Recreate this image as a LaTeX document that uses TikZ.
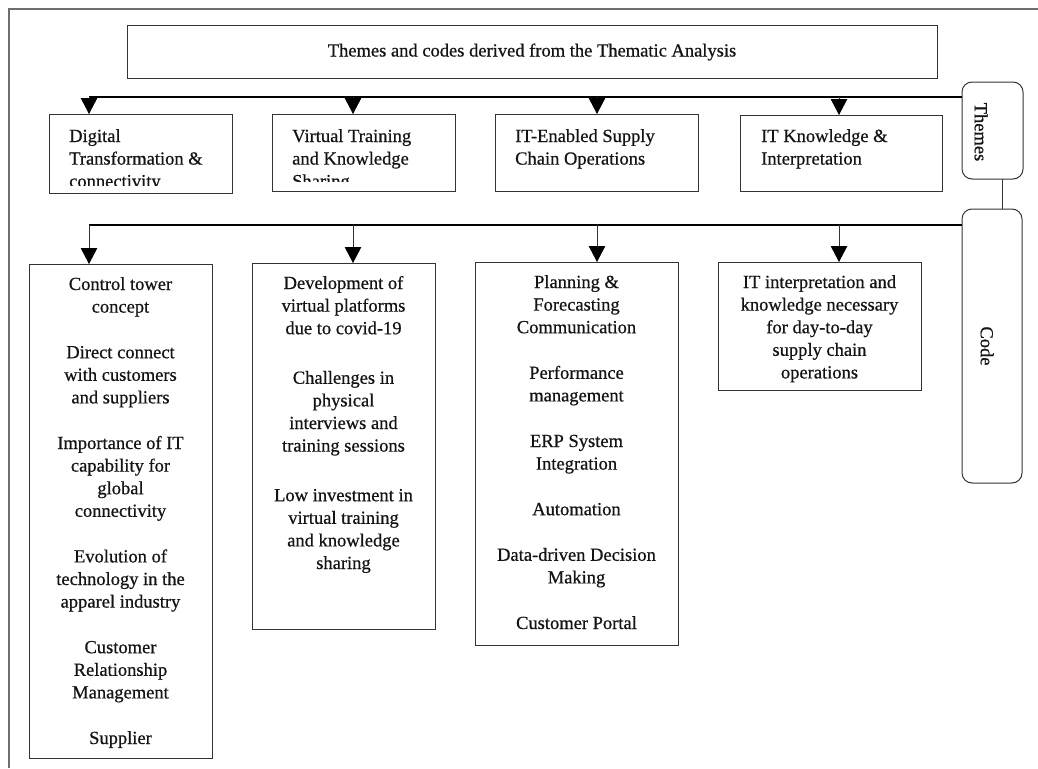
\documentclass[tikz,border=0pt]{standalone}
\usepackage{fontspec}
\setmainfont[FakeBold=0.6]{Liberation Serif}
\usetikzlibrary{arrows.meta}
\definecolor{boxc}{HTML}{333333}
\definecolor{framec}{HTML}{6E6E6E}
\definecolor{txtc}{HTML}{141414}
\begin{document}
\begin{tikzpicture}[x=1pt,y=-1pt,
  box/.style={draw=boxc, line width=1pt, inner sep=0pt, outer sep=0pt},
  rbox/.style={box, rounded corners=10pt},
  txt/.style={font=\fontsize{18.5}{22.6}\selectfont, text=txtc, inner sep=0pt},
  bus/.style={draw=black, line width=1.1pt},
  conn/.style={draw=boxc, line width=0.9pt},
  arr/.style={draw=boxc, line width=0.9pt, -{Triangle[width=16.5pt,length=16pt,fill=black,color=black]}},
  frame/.style={draw=framec, line width=1.3pt}]
\useasboundingbox[fill=white] (0,0) rectangle (1038,768);
\draw[frame] (9,768) -- (9,9) -- (1038,9);

% title
\node[box, txt, minimum width=810pt, minimum height=52pt] (title) at (532,52)
  {Themes and codes derived from the Thematic Analysis};

% theme boxes
\node[box, anchor=north west, minimum width=183pt, minimum height=79pt] (t1) at (49,114) {};
\node[box, anchor=north west, minimum width=183pt, minimum height=77pt] (t2) at (272,114) {};
\node[box, anchor=north west, minimum width=203pt, minimum height=77pt] (t3) at (495,114) {};
\node[box, anchor=north west, minimum width=202pt, minimum height=76pt] (t4) at (740,115) {};

\begin{scope}
\clip (t1.north west) rectangle ([yshift=8pt]t1.south east);
\node[txt, anchor=base west] (t1x) at ([xshift=20pt,yshift=-28pt]t1.north west)
  {\begin{tabular}[t]{@{}l@{}}Digital\\Transformation \&\\connectivity\end{tabular}};
\end{scope}
\begin{scope}
\clip (t2.north west) rectangle ([yshift=10pt]t2.south east);
\node[txt, anchor=base west] (t2x) at ([xshift=20pt,yshift=-28pt]t2.north west)
  {\begin{tabular}[t]{@{}l@{}}Virtual Training\\and Knowledge\\Sharing\end{tabular}};
\end{scope}
\node[txt, anchor=base west] (t3x) at ([xshift=20pt,yshift=-28pt]t3.north west)
  {\begin{tabular}[t]{@{}l@{}}IT-Enabled Supply\\Chain Operations\end{tabular}};
\node[txt, anchor=base west] (t4x) at ([xshift=21pt,yshift=-27pt]t4.north west)
  {\begin{tabular}[t]{@{}l@{}}IT Knowledge \&\\Interpretation\end{tabular}};

% side labels
\node[rbox, minimum width=61pt, minimum height=97pt] (themes) at (992.5,130.5) {};
\node[txt, rotate=-90] (themesx) at (981,132) {Themes};
\node[rbox, minimum width=60pt, minimum height=274pt] (code) at (992,346) {};
\node[txt, rotate=-90] (codex) at (987,346) {Code};
\draw[conn] ([xshift=9.5pt]themes.south) -- ([xshift=10pt]code.north);

% code boxes
\node[box, anchor=north west, minimum width=183pt, minimum height=494pt] (cb1) at (29,264) {};
\node[box, anchor=north west, minimum width=183pt, minimum height=366pt] (cb2) at (252,263) {};
\node[box, anchor=north west, minimum width=203pt, minimum height=383pt] (cb3) at (475,262) {};
\node[box, anchor=north west, minimum width=203pt, minimum height=128pt] (cb4) at (718,262) {};

\node[txt, anchor=base] (cb1x) at ([yshift=-26pt]cb1.north)
  {\begin{tabular}[t]{@{}c@{}}Control tower\\concept\\[23pt]
   Direct connect\\with customers\\and suppliers\\[23pt]
   Importance of IT\\capability for\\global\\connectivity\\[23pt]
   Evolution of\\technology in the\\apparel industry\\[23pt]
   Customer\\Relationship\\Management\\[23pt]
   Supplier\end{tabular}};
\node[txt, anchor=base] (cb2x) at ([yshift=-26pt]cb2.north)
  {\begin{tabular}[t]{@{}c@{}}Development of\\virtual platforms\\due to covid-19\\[27pt]
   Challenges in\\physical\\interviews and\\training sessions\\[27pt]
   Low investment in\\virtual training\\and knowledge\\sharing\end{tabular}};
\node[txt, anchor=base] (cb3x) at ([yshift=-26pt]cb3.north)
  {\begin{tabular}[t]{@{}c@{}}Planning \&\\Forecasting\\Communication\\[23pt]
   Performance\\management\\[23pt]
   ERP System\\Integration\\[23pt]
   Automation\\[23pt]
   Data-driven Decision\\Making\\[23pt]
   Customer Portal\end{tabular}};
\begin{scope}
\clip (cb4.north west) rectangle ([yshift=7pt]cb4.south east);
\node[txt, anchor=base] (cb4x) at ([yshift=-26pt]cb4.north)
  {\begin{tabular}[t]{@{}c@{}}IT interpretation and\\knowledge necessary\\for day-to-day\\supply chain\\operations\end{tabular}};
\end{scope}

% theme bus and arrows
\coordinate (b1) at (89,97);
\coordinate (b2) at (353,97);
\coordinate (b3) at (597,97);
\coordinate (b4) at (839,97);
\draw[bus] (b1) -- (b1 -| themes.west);
\draw[arr] (b1) -- (b1 |- t1.north);
\draw[arr] (b2) -- (b2 |- t2.north);
\draw[arr] (b3) -- (b3 |- t3.north);
\draw[arr] (b4) -- (b4 |- t4.north);

% code bus and arrows
\coordinate (c1) at (89,225);
\coordinate (c2) at (353,225);
\coordinate (c3) at (597,225);
\coordinate (c4) at (839,225);
\draw[bus] (c1) -- (c1 -| code.west);
\draw[arr] (c1) -- (c1 |- cb1.north);
\draw[arr] (c2) -- (c2 |- cb2.north);
\draw[arr] (c3) -- (c3 |- cb3.north);
\draw[arr] (c4) -- (c4 |- cb4.north);
\end{tikzpicture}
\end{document}
